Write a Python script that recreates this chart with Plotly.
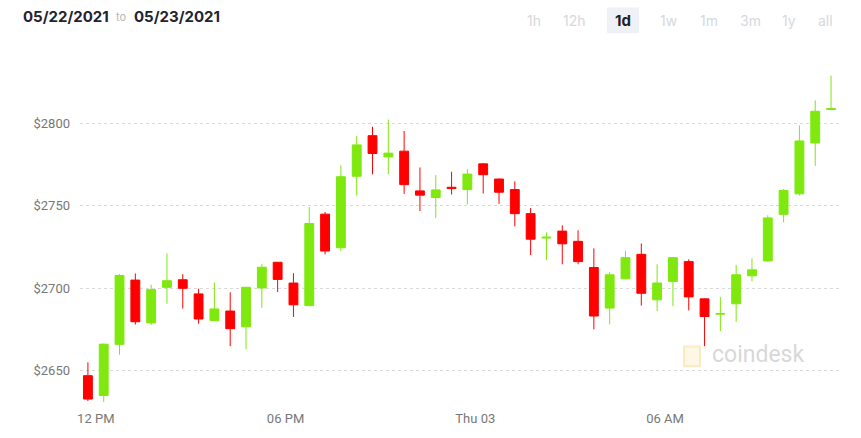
import pandas as pd
import plotly.graph_objects as go

# ---- data (30-minute candles) ----
start_time = "2021-06-02 11:45"
opens  = [2647, 2635, 2666, 2705, 2679, 2700.6, 2705.2, 2696.6, 2680.5, 2686.2,
          2676.7, 2700.2, 2715.8, 2703.2, 2689.5, 2745, 2724.6, 2768, 2792.6, 2779.7,
          2783.2, 2759.1, 2755.1, 2761.3, 2759.9, 2775.5, 2766.3, 2759.9, 2745.3, 2730.5,
          2734.7, 2728.5, 2712.6, 2688, 2705.8, 2720.6, 2693, 2704.2, 2716.2, 2693.6,
          2684.3, 2690.6, 2707.6, 2716.6, 2744.9, 2757.3, 2788.2, 2808.5]
closes = [2632.8, 2666.1, 2707.8, 2679.7, 2699.2, 2704.6, 2700, 2681.4, 2687.5, 2675.5,
          2700.6, 2712.8, 2705.4, 2690, 2739.3, 2722.6, 2767.7, 2787, 2781.8, 2782,
          2762.9, 2756.5, 2759.7, 2760.5, 2769.3, 2768.9, 2758.3, 2745.3, 2729.8, 2731,
          2727, 2716.2, 2683.2, 2708.2, 2718.6, 2697, 2703.2, 2718.6, 2694.8, 2682.9,
          2684.7, 2708.2, 2711.2, 2742.7, 2759.3, 2789.4, 2807.4, 2809]
highs  = [2655.1, 2666.5, 2708.6, 2709, 2702.2, 2721.2, 2708.6, 2699.8, 2703.6, 2697.6,
          2700.8, 2714.8, 2716, 2709.2, 2749.3, 2746.3, 2774.7, 2792.4, 2798, 2802.4,
          2795.4, 2773.3, 2768.7, 2770.7, 2772.3, 2776, 2766.5, 2764.9, 2748.7, 2733.9,
          2738.2, 2735.2, 2724.2, 2709.8, 2722.6, 2727.2, 2714.6, 2719, 2717.6, 2693.8,
          2694.8, 2714.2, 2718.2, 2744.3, 2760.3, 2798.8, 2814, 2829]
lows   = [2631.6, 2631, 2659.7, 2678, 2677.7, 2690.6, 2687.7, 2678.5, 2680.5, 2664.9,
          2663, 2688.2, 2697.8, 2682.6, 2689.5, 2720.6, 2722.6, 2756.3, 2769.2, 2769.3,
          2757.3, 2746.9, 2742.7, 2756.9, 2750.9, 2757.5, 2751.3, 2737.6, 2720.2, 2717.2,
          2714.6, 2714.6, 2675.1, 2678.1, 2705.5, 2689.5, 2686.2, 2689.2, 2686.6, 2664.9,
          2674.1, 2679.7, 2704.2, 2716, 2739.9, 2756.3, 2774.3, 2808.3]

tick_times  = ["2021-06-02 12:00", "2021-06-02 18:00", "2021-06-03 00:00", "2021-06-03 06:00"]
tick_labels = ["12 PM", "06 PM", "Thu 03", "06 AM"]
y_ticks = [2650, 2700, 2750, 2800]
y_tick_labels = ["$2650", "$2700", "$2750", "$2800"]

date_from = "05/22/2021"
date_to = "05/23/2021"
ranges = ["1h", "12h", "1d", "1w", "1m", "3m", "1y", "all"]
active_range = "1d"

times = pd.date_range(start_time, periods=len(opens), freq="30min")

GREEN = "#7fe80e"
RED = "#ff0000"

fig = go.Figure(go.Candlestick(
    x=times, open=opens, high=highs, low=lows, close=closes,
    increasing=dict(line=dict(color=GREEN, width=1), fillcolor=GREEN),
    decreasing=dict(line=dict(color=RED, width=1), fillcolor=RED),
    whiskerwidth=0, hoverinfo="skip", showlegend=False,
))

x0 = times[0] - pd.Timedelta(minutes=15)
x1 = times[-1] + pd.Timedelta(minutes=17)

PW, PH = 760, 350          # plot area size in pixels
PL, PT = 80, 60            # plot area left/top

def px_x(sx):
    return (sx - PL) / PW

def px_y(sy):
    return (PT + PH - sy) / PH

fig.update_layout(
    width=861, height=438,
    margin=dict(l=80, r=21, t=60, b=28),
    paper_bgcolor="white", plot_bgcolor="white",
    font=dict(family="Roboto, Arial, sans-serif", color="#777"),
    boxgap=0.2,
    xaxis=dict(
        range=[x0, x1], rangeslider=dict(visible=False),
        tickvals=pd.to_datetime(tick_times), ticktext=tick_labels,
        showgrid=False, zeroline=False, showline=False,
        tickfont=dict(size=13, color="#777"), ticks="", ticklabelstandoff=2,
    ),
    yaxis=dict(
        range=[2628, 2838.5], tickvals=y_ticks, ticktext=y_tick_labels,
        showgrid=True, gridcolor="#d9d9d9", griddash="dot", gridwidth=1,
        zeroline=False, showline=False,
        tickfont=dict(size=13, color="#777"), ticklabelstandoff=9,
    ),
)

# title (three pieces)
title_font = dict(family="Inter, Roboto, sans-serif", size=15, color="#23232f")
fig.add_annotation(xref="paper", yref="paper", x=px_x(21), y=px_y(16),
                   xanchor="left", yanchor="middle", showarrow=False,
                   text=f"<b>{date_from}</b>", font=title_font)
fig.add_annotation(xref="paper", yref="paper", x=px_x(121), y=px_y(17),
                   xanchor="center", yanchor="middle", showarrow=False,
                   text="to", font=dict(family="Inter, Roboto, sans-serif", size=11, color="#b5b5b5"))
fig.add_annotation(xref="paper", yref="paper", x=px_x(132), y=px_y(16),
                   xanchor="left", yanchor="middle", showarrow=False,
                   text=f"<b>{date_to}</b>", font=title_font)

# range buttons
btn_x = [534, 574, 623, 668, 709, 750, 789, 825]
for lbl, sx in zip(ranges, btn_x):
    active = lbl == active_range
    if active:
        fig.add_shape(type="rect", xref="paper", yref="paper",
                      x0=px_x(607), x1=px_x(639), y0=px_y(33), y1=px_y(7),
                      fillcolor="#eef1f5", line=dict(width=0), layer="below")
    fig.add_annotation(
        xref="paper", yref="paper", x=px_x(sx), y=px_y(20),
        xanchor="center", yanchor="middle", showarrow=False,
        text=f"<b>{lbl}</b>" if active else lbl,
        font=dict(family="Inter, Roboto, sans-serif", size=15 if active else 14,
                  color="#1e1e2d" if active else "#d6d8dc"),
    )

# watermark
fig.add_shape(type="rect", xref="paper", yref="paper",
              x0=px_x(684), x1=px_x(700), y0=px_y(369), y1=px_y(349),
              fillcolor="rgba(250,225,150,0.25)", line=dict(color="rgba(245,215,130,0.45)", width=2))
fig.add_annotation(
    xref="paper", yref="paper", x=px_x(710), y=px_y(357),
    xanchor="left", yanchor="middle", showarrow=False,
    text="coindesk", font=dict(family="Roboto, sans-serif", size=23, color="#d8d8d8"),
)

fig.write_html("out.html",
               config={"displayModeBar": False},
               post_script="document.body.style.margin='0';document.body.style.overflow='hidden';")
